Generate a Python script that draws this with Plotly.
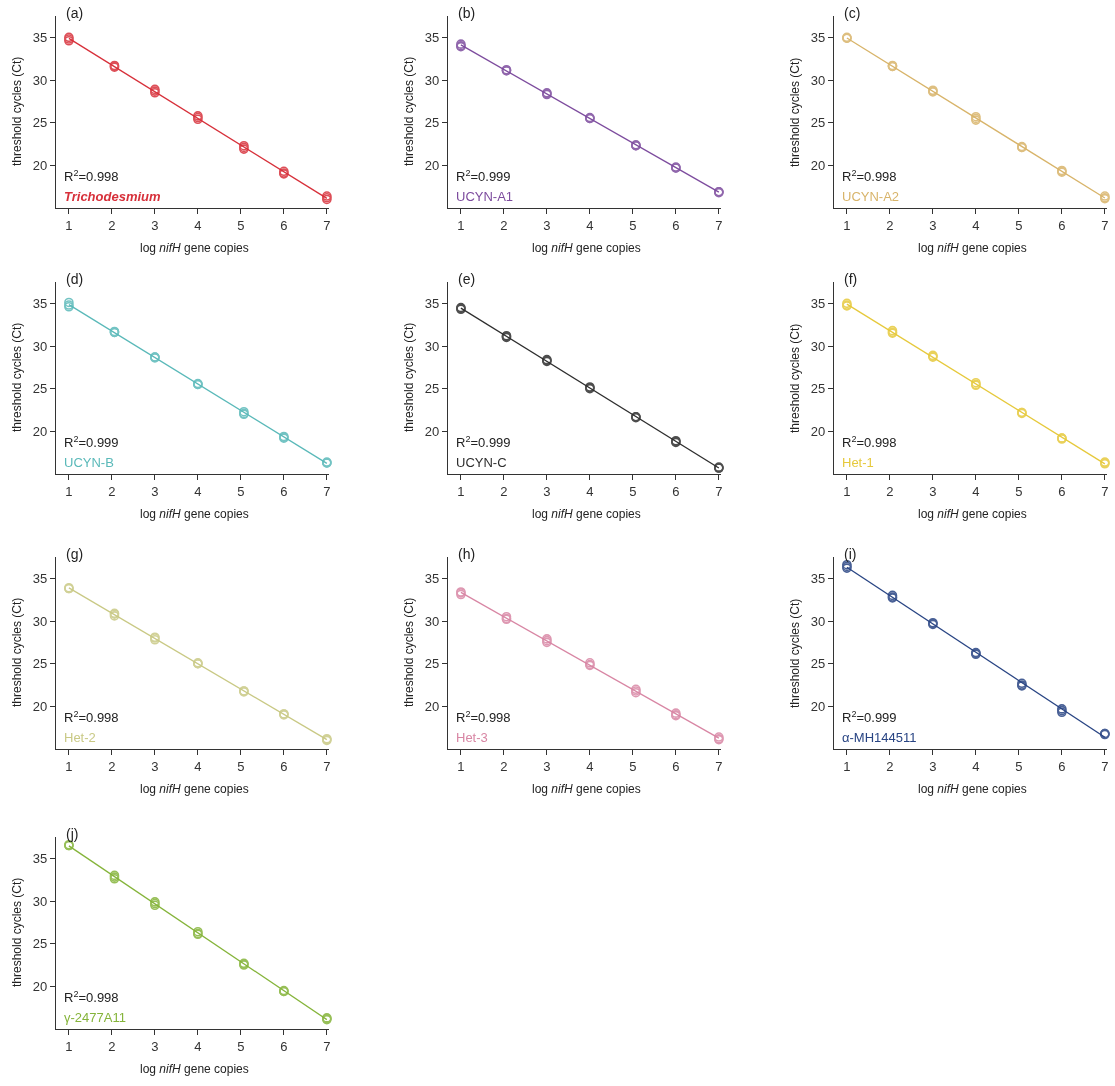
import numpy as np
import plotly.graph_objects as go

# ---------------- data ----------------
X_LEVELS = [1, 2.06, 3, 4, 5.07, 6, 7]

PANEL_LETTERS = ["(a)", "(b)", "(c)", "(d)", "(e)", "(f)", "(g)", "(h)", "(i)", "(j)"]
SPECIES = ["<b><i>Trichodesmium</i></b>", "UCYN-A1", "UCYN-A2", "UCYN-B", "UCYN-C",
           "Het-1", "Het-2", "Het-3", "α-MH144511", "γ-2477A11"]
R2_LABELS = ["0.998", "0.999", "0.998", "0.999", "0.999", "0.998", "0.998", "0.998", "0.999", "0.998"]
COLORS = ["#d7303a", "#7d4c9e", "#d8b46a", "#5ab9b9", "#2e2e2e",
          "#e6c93c", "#c9c985", "#d886a4", "#284483", "#85b43a"]

CT_A = [[35.0, 34.8, 34.6], [31.7, 31.6, 31.5], [28.9, 28.7, 28.5], [25.8, 25.6, 25.4],
        [22.3, 22.1, 21.9], [19.3, 19.1, 19.0], [16.4, 16.2, 16.0]]
CT_B = [[34.2, 34.0, 33.9], [31.2, 31.1, 31.1], [28.5, 28.4, 28.3], [25.6, 25.5, 25.5],
        [22.4, 22.3, 22.3], [19.8, 19.7, 19.7], [16.9, 16.9, 16.8]]
CT_C = [[35.0, 34.9, 34.9], [31.7, 31.6, 31.6], [28.8, 28.7, 28.6], [25.7, 25.5, 25.3],
        [22.2, 22.1, 22.1], [19.4, 19.3, 19.2], [16.4, 16.2, 16.1]]
CT_D = [[35.1, 34.8, 34.6], [31.7, 31.6, 31.6], [28.7, 28.7, 28.6], [25.6, 25.5, 25.5],
        [22.3, 22.1, 22.0], [19.4, 19.3, 19.2], [16.4, 16.3, 16.3]]
CT_E = [[34.5, 34.4, 34.3], [31.2, 31.1, 31.0], [28.4, 28.3, 28.2], [25.2, 25.1, 25.0],
        [21.7, 21.7, 21.6], [18.9, 18.8, 18.7], [15.8, 15.7, 15.7]]
CT_F = [[35.0, 34.8, 34.7], [31.8, 31.6, 31.5], [28.9, 28.8, 28.7], [25.7, 25.5, 25.4],
        [22.2, 22.2, 22.1], [19.2, 19.2, 19.1], [16.4, 16.3, 16.2]]
CT_G = [[33.9, 33.8, 33.8], [30.9, 30.8, 30.6], [28.1, 28.0, 27.8], [25.1, 25.0, 25.0],
        [21.8, 21.8, 21.7], [19.1, 19.1, 19.0], [16.2, 16.1, 16.0]]
CT_H = [[33.4, 33.3, 33.1], [30.5, 30.3, 30.2], [27.9, 27.7, 27.5], [25.1, 24.9, 24.8],
        [22.0, 21.8, 21.6], [19.2, 19.0, 18.9], [16.4, 16.2, 16.1]]
CT_I = [[36.6, 36.4, 36.2], [33.0, 32.8, 32.7], [29.8, 29.7, 29.6], [26.3, 26.2, 26.1],
        [22.7, 22.5, 22.4], [19.7, 19.5, 19.3], [16.8, 16.8, 16.7]]
CT_J = [[36.6, 36.5, 36.5], [33.0, 32.8, 32.6], [29.9, 29.7, 29.5], [26.4, 26.2, 26.1],
        [22.7, 22.6, 22.5], [19.5, 19.4, 19.4], [16.3, 16.2, 16.1]]
CT_ALL = [CT_A, CT_B, CT_C, CT_D, CT_E, CT_F, CT_G, CT_H, CT_I, CT_J]

X_TICKS = [1, 2, 3, 4, 5, 6, 7]
Y_TICKS = [20, 25, 30, 35]

# ---------------- layout geometry ----------------
W, H = 1115, 1086
COL_PX = [(56, 329), (448, 721), (834, 1107)]
ROW_BOTTOM_PX = [208, 474, 749, 1029]
PANEL_H = 192
XR = [0.7, 7.05]
YR = [15, 37.5]

FONT = "Liberation Sans, Arial, Helvetica, sans-serif"
AX_COL = "#333333"


def px_x(p):
    return p / W


def px_y(p):
    return 1 - p / H


fig = go.Figure()
annotations = []
layout_axes = {}

for k in range(10):
    r, c = divmod(k, 3)
    idx = k + 1
    xa = f"x{idx}" if idx > 1 else "x"
    ya = f"y{idx}" if idx > 1 else "y"
    x0, x1 = COL_PX[c]
    yb = ROW_BOTTOM_PX[r]
    yt = yb - PANEL_H
    xdom = [px_x(x0), px_x(x1)]
    ydom = [px_y(yb), px_y(yt)]

    ct = CT_ALL[k]
    xs, ys = [], []
    for xv, trip in zip(X_LEVELS, ct):
        for v in trip:
            xs.append(xv)
            ys.append(v)
    slope, icpt = np.polyfit(xs, ys, 1)
    lx = np.array([1, 7])
    ly = slope * lx + icpt

    col = COLORS[k]
    fig.add_trace(go.Scatter(x=lx, y=ly, mode="lines", line=dict(color=col, width=1.3),
                             xaxis=xa, yaxis=ya, showlegend=False, hoverinfo="skip",
                             cliponaxis=False))
    fig.add_trace(go.Scatter(x=xs, y=ys, mode="markers",
                             marker=dict(symbol="circle-open", size=8, color=col,
                                         line=dict(width=1.6, color=col)),
                             opacity=0.85, xaxis=xa, yaxis=ya, showlegend=False,
                             cliponaxis=False))

    key = "" if idx == 1 else str(idx)
    layout_axes[f"xaxis{key}"] = dict(
        domain=xdom, range=XR, anchor=ya, tickvals=X_TICKS, ticks="outside", ticklen=5,
        tickcolor=AX_COL, tickwidth=1.2, showline=True, linecolor=AX_COL, linewidth=1.4,
        showgrid=False, zeroline=False, tickfont=dict(family=FONT, size=13, color=AX_COL),
        fixedrange=True)
    layout_axes[f"yaxis{key}"] = dict(
        domain=ydom, range=YR, anchor=xa, tickvals=Y_TICKS, ticks="outside", ticklen=5,
        tickcolor=AX_COL, tickwidth=1.2, showline=True, linecolor=AX_COL, linewidth=1.4,
        showgrid=False, zeroline=False, tickfont=dict(family=FONT, size=13, color=AX_COL),
        fixedrange=True)

    # panel letter
    annotations.append(dict(xref="paper", yref="paper", x=px_x(x0 + 8), y=px_y(yt - 3),
                            xanchor="left", yanchor="middle", text=PANEL_LETTERS[k],
                            showarrow=False, font=dict(family=FONT, size=14, color="#222")))
    # R2 and species
    annotations.append(dict(xref=xa, yref=ya, x=0.84, y=18.75, xanchor="left", yanchor="middle",
                            text="R<sup>2</sup>=" + R2_LABELS[k], showarrow=False,
                            font=dict(family=FONT, size=13, color="#222")))
    annotations.append(dict(xref=xa, yref=ya, x=0.84, y=16.4, xanchor="left", yanchor="middle",
                            text=SPECIES[k], showarrow=False,
                            font=dict(family=FONT, size=13, color=col)))
    # axis titles
    annotations.append(dict(xref="paper", yref="paper", x=px_x((x0 + x1) / 2 + 2), y=px_y(yb + 40),
                            xanchor="center", yanchor="middle",
                            text="log <i>nifH</i> gene copies", showarrow=False,
                            font=dict(family=FONT, size=12, color="#222")))
    annotations.append(dict(xref="paper", yref="paper", x=px_x(x0 - 39), y=px_y(yb - 96),
                            xanchor="center", yanchor="middle", textangle=-90,
                            text="threshold cycles (Ct)", showarrow=False,
                            font=dict(family=FONT, size=12, color="#222")))

fig.update_layout(
    width=W, height=H, margin=dict(l=0, r=0, t=0, b=0),
    paper_bgcolor="white", plot_bgcolor="white",
    annotations=annotations, showlegend=False,
    **layout_axes,
)

fig.write_html(
    "out.html",
    config={"displayModeBar": False},
    post_script="document.body.style.margin='0';document.body.style.overflow='hidden';",
)
